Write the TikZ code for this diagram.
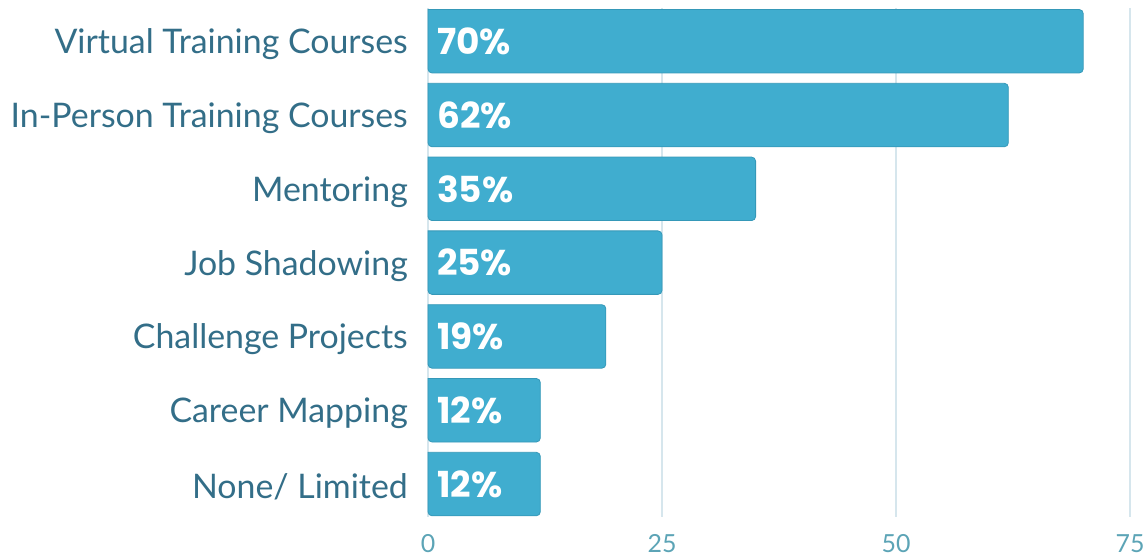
\documentclass[tikz,border=0pt]{standalone}
\usepackage{fontspec}
\setmainfont{Lato}
\newfontfamily\pctfont{Poppins}
\definecolor{barfill}{HTML}{40ADCF}
\definecolor{barline}{HTML}{3598B8}
\definecolor{labtext}{HTML}{336E88}
\definecolor{axtext}{HTML}{5CA4B6}
\definecolor{gridc}{HTML}{D6E6ED}
\tikzset{
  barbox/.style={fill=barfill, draw=barline, line width=0.8bp},
  cat/.style={anchor=east, inner sep=0pt, text=labtext, font=\fontsize{34}{34}\selectfont},
  pct/.style={anchor=west, inner sep=0pt, text=white, font=\pctfont\bfseries\fontsize{36}{36}\selectfont},
  tick/.style={anchor=center, inner sep=0pt, text=axtext, font=\fontsize{25}{25}\selectfont},
  gridline/.style={draw=gridc, line width=1.2bp}
}
\begin{document}
\begin{tikzpicture}[x=1bp,y=-1bp]
\useasboundingbox (0,0) rectangle (1148,558);
% grid lines
\foreach \v/\n in {0/g0,25/g25,50/g50,75/g75}{
  \coordinate (\n t) at ({428+9.36*\v},8);
  \coordinate (\n b) at ({428+9.36*\v},517);
}
\draw[gridline] (g25t) -- (g25b);
\draw[gridline] (g50t) -- (g50b);
\draw[gridline] (g75t) -- (g75b);
\draw[gridline] (g0t) -- (g0b);
% bars
\foreach \i/\v/\lab in {0/70/{Virtual Training Courses},1/62/{In-Person Training Courses},2/35/{Mentoring},3/25/{Job Shadowing},4/19/{Challenge Projects},5/12/{Career Mapping},6/12/{None/ Limited}}{
  \pgfmathsetmacro{\top}{9.5+73.8*\i}
  \pgfmathsetmacro{\bot}{\top+63.5}
  \pgfmathsetmacro{\mid}{\top+31.75}
  \pgfmathsetmacro{\xr}{428+9.36*\v}
  \draw[barbox, rounded corners=4bp] (428,\top) -- (\xr,\top) -- (\xr,\bot) -- (428,\bot) [sharp corners] -- cycle;
  \node[cat] (c\i) at (408,\mid+3) {\lab};
  \node[pct] (p\i) at (437,\mid) {\v\%};
}
\node[tick] (t0) at (g0b) [yshift=-27bp] {0};
\node[tick] (t25) at (g25b) [yshift=-27bp] {25};
\node[tick] (t50) at (g50b) [yshift=-27bp] {50};
\node[tick] (t75) at (g75b) [yshift=-27bp] {75};
\end{tikzpicture}
\end{document}
